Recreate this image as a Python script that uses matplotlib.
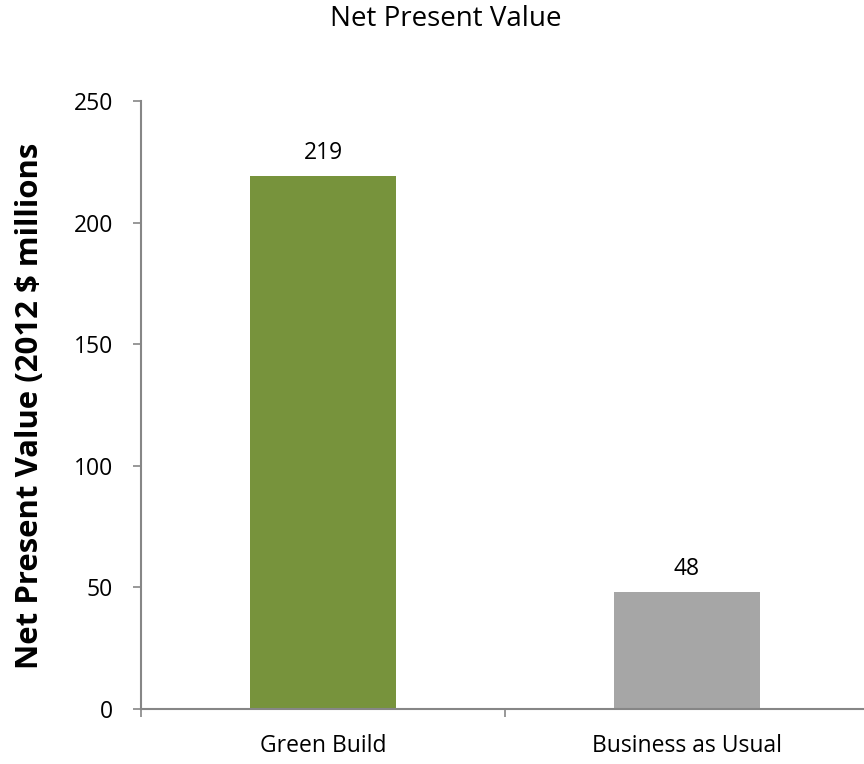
import matplotlib
matplotlib.use("Agg")
import matplotlib.pyplot as plt

categories = ["Green Build", "Business as Usual"]
values = [219, 48]
colors = ["#77933C", "#A6A6A6"]
yticks = [0, 50, 100, 150, 200, 250]

plt.rcParams['font.family'] = ['Open Sans', 'DejaVu Sans']

W, H = 864, 764
fig = plt.figure(figsize=(W/100, H/100), dpi=100)
left = 141 / W
right = 869 / W
bottom = 1 - 709 / H
top = 1 - 101 / H
ax = fig.add_axes([left, bottom, right - left, top - bottom])

x = list(range(len(categories)))
ax.bar(x, values, width=0.4, color=colors, zorder=2)
ax.set_xlim(-0.5, len(categories) - 0.5)
ax.set_ylim(0, 250)
ax.set_yticks(yticks)
ax.set_yticklabels([str(t) for t in yticks], fontsize=16.5)

ax.set_xticks(x)
ax.set_xticklabels(categories, fontsize=16.5)
ax.tick_params(axis='x', which='major', length=0, pad=18)
ax.set_xticks([-0.5, 0.5, 1.5], minor=True)
ax.tick_params(axis='x', which='minor', length=6, color="#868686", width=1.2)
ax.tick_params(axis='y', length=6, color="#868686", width=1.2, pad=14)

for s in ['top', 'right']:
    ax.spines[s].set_visible(False)
for s in ['left', 'bottom']:
    ax.spines[s].set_color("#868686")
    ax.spines[s].set_linewidth(1.5)

for xi, v in zip(x, values):
    ax.annotate(str(v), (xi, v), xytext=(0, 12.6), textcoords='offset points',
                ha='center', va='baseline', fontsize=16.5)

fig.text(446 / W, 1 - 19 / H, "Net Present Value", ha='center', va='center', fontsize=20)
fig.text(30 / W, 1 - 406 / H, "Net Present Value (2012 $ millions", rotation=90,
         ha='center', va='center', fontsize=22.4, fontweight='bold')

fig.savefig("out.png", dpi=100)
